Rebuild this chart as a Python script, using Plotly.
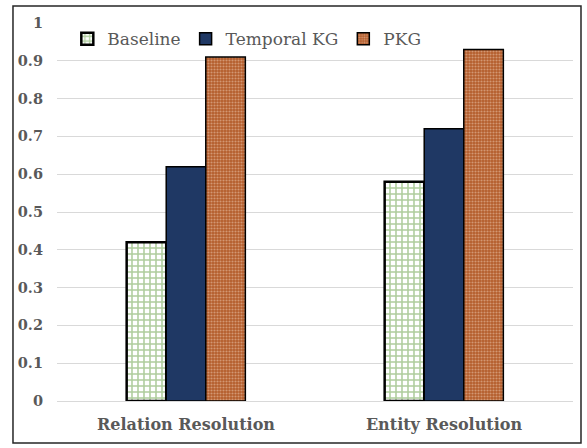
import plotly.graph_objects as go

categories = ["Relation Resolution", "Entity Resolution"]
baseline = [0.42, 0.58]
temporal_kg = [0.62, 0.72]
pkg = [0.91, 0.93]
y_ticks = [0, 0.1, 0.2, 0.3, 0.4, 0.5, 0.6, 0.7, 0.8, 0.9, 1]
y_tick_text = ["0", "0.1", "0.2", "0.3", "0.4", "0.5", "0.6", "0.7", "0.8", "0.9", "1"]

FONT = "DejaVu Serif"
GREY = "#595959"

fig = go.Figure()
fig.add_trace(go.Bar(
    name="Baseline", x=categories, y=baseline,
    marker=dict(color="white", line=dict(color="black", width=2.5),
                pattern=dict(shape="+", fgcolor="#5E9A3A", bgcolor="white",
                             size=6, solidity=0.45, fillmode="overlay")),
))
fig.add_trace(go.Bar(
    name="Temporal KG", x=categories, y=temporal_kg,
    marker=dict(color="#1F3864", line=dict(color="black", width=1.5)),
))
fig.add_trace(go.Bar(
    name="PKG", x=categories, y=pkg,
    marker=dict(color="#B45D2B", line=dict(color="black", width=1.5),
                pattern=dict(shape=".", fgcolor="#F0D2BC", bgcolor="#B45D2B",
                             size=3, solidity=0.4)),
))

fig.update_layout(
    width=587, height=448,
    margin=dict(l=57, r=14, t=23, b=47),
    paper_bgcolor="white", plot_bgcolor="white",
    barmode="group", bargap=0.54, bargroupgap=0,
    font=dict(family=FONT, color=GREY),
    showlegend=True,
    legend=dict(orientation="h", x=0.02, y=1.005, xanchor="left", yanchor="top",
                font=dict(family=FONT, size=17, color=GREY),
                bgcolor="rgba(255,255,255,0)", traceorder="normal"),
    xaxis=dict(showgrid=False, showline=False, ticks="", ticklabelstandoff=12,
               tickfont=dict(family=FONT, size=16, color=GREY, weight="bold")),
    yaxis=dict(range=[0, 1.0], tickvals=y_ticks, ticktext=y_tick_text,
               showgrid=True, gridcolor="#D9D9D9", gridwidth=1.3,
               zeroline=True, zerolinecolor="#D9D9D9", zerolinewidth=1.3,
               showline=False, ticks="", ticklabelstandoff=13,
               tickfont=dict(family=FONT, size=14.5, color=GREY, weight="bold")),
    shapes=[dict(type="rect", xref="paper", yref="paper",
                 x0=-0.0853, x1=1.0155, y0=-0.111, y1=1.045,
                 line=dict(color="#262626", width=1.5), fillcolor="rgba(0,0,0,0)",
                 layer="above")],
)

fig.write_html("out.html", config={"displayModeBar": False},
               post_script="document.body.style.margin='0px';")
